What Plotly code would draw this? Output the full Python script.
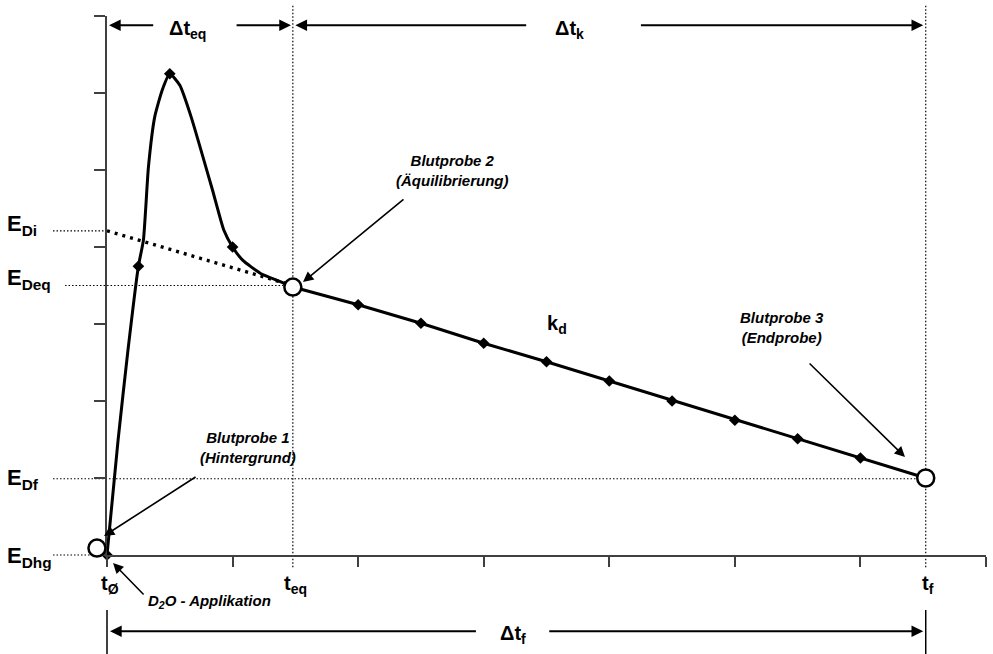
import plotly.graph_objects as go

# ---------------- data ----------------
rise_t = [0, 0.088, 0.167, 0.25, 0.29, 0.33, 0.38, 0.44, 0.5, 0.58, 0.67, 0.84, 0.93, 1.0, 1.08, 1.22, 1.38, 1.48]
rise_e = [0, 1.49, 2.66, 3.75, 4.09, 5.04, 5.69, 6.04, 6.25, 6.10, 5.69, 4.74, 4.22, 4.0, 3.83, 3.66, 3.55, 3.48]
rise_mark_t = [0, 0.25, 0.5, 1.0]
rise_mark_e = [0, 3.75, 6.25, 4.0]
decay_t = [1.48, 2.0, 2.5, 3.0, 3.5, 4.0, 4.5, 5.0, 5.5, 6.0, 6.52]
decay_e = [3.48, 3.25, 3.01, 2.75, 2.51, 2.26, 2.0, 1.75, 1.51, 1.26, 1.0]
extrap_t = [0, 1.48]
extrap_e = [4.21, 3.5]
sample_t = [-0.08, 1.48, 6.52]
sample_e = [0.09, 3.48, 1.0]

level_names = ["E<sub>Di</sub>", "E<sub>Deq</sub>", "E<sub>Df</sub>", "E<sub>Dhg</sub>"]
level_values = [4.21, 3.5, 0.99, 0.0]
time_names = ["t<sub>Ø</sub>", "t<sub>eq</sub>", "t<sub>f</sub>"]
time_values = [0.0, 1.48, 6.52]
x_ticks = [0, 1, 2, 3, 4, 5, 6, 7]
y_ticks = [0, 1, 2, 3, 4, 5, 6, 7]

# ---------------- layout geometry ----------------
W, H = 993, 654
ML, MR, MT, MB = 107, 7, 16, 99
PW, PH = W - ML - MR, H - MT - MB
XR = [0, 7]
YR = [0, 7]
XPX = PW / (XR[1] - XR[0])
YPX = PH / (YR[1] - YR[0])


def px(v):
    return (v - XR[0]) / (XR[1] - XR[0])


def py(v):
    return (v - YR[0]) / (YR[1] - YR[0])


FONT = "Liberation Sans, Arial, sans-serif"
AX_COL = "#404040"

fig = go.Figure()

# dotted extrapolation
fig.add_trace(go.Scatter(x=extrap_t, y=extrap_e, mode="lines",
                         line=dict(color="black", width=3.4, dash="3px,5px"),
                         hoverinfo="skip", showlegend=False))
# rising curve
fig.add_trace(go.Scatter(x=rise_t, y=rise_e, mode="lines",
                         line=dict(color="black", width=3, shape="spline", smoothing=0.5),
                         hoverinfo="skip", showlegend=False))
fig.add_trace(go.Scatter(x=rise_mark_t, y=rise_mark_e, mode="markers",
                         marker=dict(symbol="diamond", size=9, color="black"),
                         cliponaxis=False, hoverinfo="skip", showlegend=False))
# decay line
fig.add_trace(go.Scatter(x=decay_t, y=decay_e, mode="lines+markers",
                         line=dict(color="black", width=3),
                         marker=dict(symbol="diamond", size=9, color="black"),
                         cliponaxis=False, hoverinfo="skip", showlegend=False))

shapes = []
ann = []

# samples (open circles) -- drawn as pixel-sized shapes anchored at data points
for st, se in zip(sample_t, sample_e):
    shapes.append(dict(type="circle", xref="paper", yref="paper",
                       xsizemode="pixel", ysizemode="pixel",
                       xanchor=px(st), yanchor=py(se),
                       x0=-8.5, x1=8.5, y0=-8.5, y1=8.5,
                       fillcolor="white", line=dict(color="black", width=2.5), layer="above"))

# horizontal reference levels + labels
level_starts = [-0.43, -0.334, -0.43, -0.43]
level_ends = [0.0, time_values[1], time_values[2], 0.0]
label_dy = [0.08, 0.08, 0.0, -0.02]
for name, val, x0, x1, dy in zip(level_names, level_values, level_starts, level_ends, label_dy):
    shapes.append(dict(type="line", xref="paper", yref="paper",
                       x0=px(x0), x1=px(x1), y0=py(val), y1=py(val),
                       line=dict(color="black", width=1.2, dash="1.5px,2px"), layer="below"))
    ann.append(dict(xref="paper", yref="paper", x=px(-0.81), y=py(val + dy),
                    xanchor="left", yanchor="middle", showarrow=False,
                    text="<b>" + name + "</b>", font=dict(family=FONT, size=22, color="black")))

# vertical reference times
for tv in time_values[1:]:
    shapes.append(dict(type="line", xref="paper", yref="paper",
                       x0=px(tv), x1=px(tv), y0=py(-0.16), y1=py(7.14),
                       line=dict(color="black", width=1.2, dash="1.5px,2px"), layer="below"))

# time labels
for name, tv in zip(time_names, time_values):
    ann.append(dict(xref="paper", yref="paper", x=px(tv + 0.02), y=py(-0.38),
                    xanchor="center", yanchor="middle", showarrow=False,
                    text="<b>" + name + "</b>", font=dict(family=FONT, size=20, color="black")))


def harrow(x_head, x_tail, yv):
    ann.append(dict(xref="paper", yref="paper", x=px(x_head), y=py(yv),
                    ax=(x_tail - x_head) * XPX, ay=0, text="", showarrow=True,
                    arrowhead=2, arrowsize=1.3, arrowwidth=1.8, arrowcolor="black"))


def label(txt, xv, yv, size, italic=False):
    t = "<b><i>" + txt + "</i></b>" if italic else "<b>" + txt + "</b>"
    ann.append(dict(xref="paper", yref="paper", x=px(xv), y=py(yv),
                    xanchor="center", yanchor="middle", showarrow=False,
                    text=t, font=dict(family=FONT, size=size, color="black")))


TOP_Y = 6.88
# Δt_eq
harrow(0.016, 0.38, TOP_Y)
harrow(1.465, 1.02, TOP_Y)
label("Δt<sub>eq</sub>", 0.645, 6.83, 20)
# Δt_k
harrow(1.50, 3.35, TOP_Y)
harrow(6.50, 4.24, TOP_Y)
label("Δt<sub>k</sub>", 3.68, 6.83, 20)
# Δt_f
BOT_Y = -0.99
harrow(0.024, 2.95, BOT_Y)
harrow(6.50, 3.51, BOT_Y)
label("Δt<sub>f</sub>", 3.23, -1.03, 20)
for xv in [0.0, time_values[2]]:
    shapes.append(dict(type="line", xref="paper", yref="paper",
                       x0=px(xv), x1=px(xv), y0=py(-0.714), y1=py(-1.3),
                       line=dict(color="black", width=1.5)))

# k_d
label("k<sub>d</sub>", 3.584, 3.0, 20)


def parrow(xh, yh, xt, yt):
    ann.append(dict(xref="paper", yref="paper", x=px(xh), y=py(yh),
                    ax=(xt - xh) * XPX, ay=-(yt - yh) * YPX, text="", showarrow=True,
                    arrowhead=2, arrowsize=1.3, arrowwidth=1.6, arrowcolor="black"))


# Blutprobe 1
label("Blutprobe 1<br>(Hintergrund)", 1.123, 1.39, 15, italic=True)
parrow(-0.024, 0.247, 0.717, 1.026)
# Blutprobe 2
label("Blutprobe 2<br>(Äquilibrierung)", 2.75, 5.0, 15, italic=True)
parrow(1.561, 3.545, 2.373, 4.636)
# Blutprobe 3
label("Blutprobe 3<br>(Endprobe)", 5.376, 2.961, 15, italic=True)
parrow(6.355, 1.273, 5.583, 2.506)
# D2O application
label("D<sub>2</sub>O - Applikation", 0.82, -0.61, 15, italic=True)
parrow(0.048, -0.104, 0.303, -0.532)

fig.update_layout(
    width=W, height=H,
    margin=dict(l=ML, r=MR, t=MT, b=MB, pad=0),
    paper_bgcolor="white", plot_bgcolor="white",
    showlegend=False,
    font=dict(family=FONT, color="black"),
    shapes=shapes, annotations=ann,
    xaxis=dict(range=XR, tickvals=x_ticks, ticks="outside", ticklen=10, tickwidth=2,
               tickcolor=AX_COL, showline=True, linewidth=2, linecolor=AX_COL,
               showgrid=False, zeroline=False, showticklabels=False, fixedrange=True),
    yaxis=dict(range=YR, tickvals=y_ticks, ticks="outside", ticklen=11, tickwidth=2,
               tickcolor=AX_COL, showline=True, linewidth=2, linecolor=AX_COL,
               showgrid=False, zeroline=False, showticklabels=False, fixedrange=True),
)

fig.write_html("out.html")
